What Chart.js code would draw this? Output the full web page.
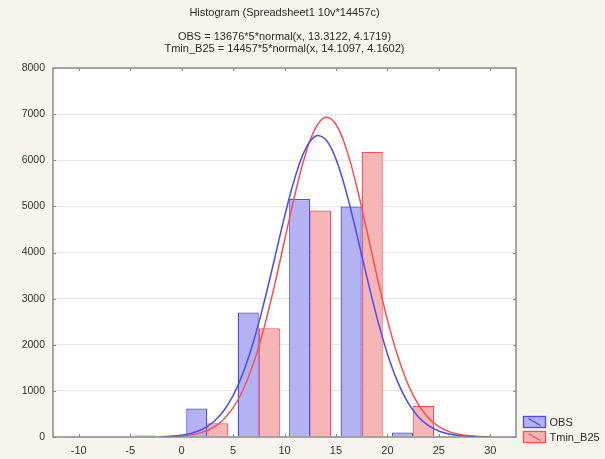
<!DOCTYPE html>
<html>
<head>
<meta charset="utf-8">
<script src="https://cdn.jsdelivr.net/npm/chart.js@4"></script>
<style>
  html, body { margin: 0; padding: 0; background: #f7f4ec; }
  #c { display: block; }
</style>
</head>
<body>
<canvas id="c" width="605" height="459"></canvas>
<script>
// ---- data ----
const binCenters = [-7.5, -2.5, 2.5, 7.5, 12.5, 17.5, 22.5, 27.5];
const obsCounts  = [0, 30, 620, 2700, 5160, 5000, 100, 0];
const tminCounts = [0, 5, 300, 2360, 4910, 6180, 680, 10];

const curveX  = [-2,-1,0,1,2,3,4,5,6,7,8,9,10,11,12,13,14,15,16,17,18,19,20,21,22,23,24,25,26,27,28,29,30];
const obsFit  = [8,18,40,84,165,308,541,897,1406,2081,2906,3833,4773,5610,6224,6521,6450,6024,5311,4420,3472,2577,1806,1195,745,440,245,129,64,30,13,5,2];
const tminFit = [4,9,22,48,100,196,362,630,1036,1608,2356,3261,4254,5242,6096,6690,6930,6775,6252,5447,4478,3475,2545,1760,1147,706,411,225,117,57,26,11,5];

const xTicks = [-10, -5, 0, 5, 10, 15, 20, 25, 30];
const yTicks = [0, 1000, 2000, 3000, 4000, 5000, 6000, 7000, 8000];

const seriesNames = ['OBS', 'Tmin_B25'];
const titleLines = [
  'Histogram (Spreadsheet1 10v*14457c)',
  'OBS = 13676*5*normal(x, 13.3122, 4.1719)',
  'Tmin_B25 = 14457*5*normal(x, 14.1097, 4.1602)'
];

// ---- styles ----
const blueFill = '#b3b3f3', blueLine = '#4a4aff';
const redFill  = '#f6b6b6', redLine  = '#ff4e4e';
const FONT = '"Liberation Sans", Arial, sans-serif';

const bgPlugin = {
  id: 'bg',
  beforeDraw(chart) {
    const { ctx, chartArea: a } = chart;
    ctx.save();
    ctx.fillStyle = '#f7f4ec';
    ctx.fillRect(0, 0, chart.width, chart.height);
    ctx.fillStyle = '#ffffff';
    ctx.fillRect(a.left, a.top, a.right - a.left, a.bottom - a.top);
    ctx.restore();
  }
};

const framePlugin = {
  id: 'frame',
  afterDraw(chart) {
    const { ctx, chartArea: a, scales } = chart;
    ctx.save();
    ctx.strokeStyle = '#8a8a8a';
    ctx.lineWidth = 1.5;
    ctx.strokeRect(a.left, a.top, a.right - a.left, a.bottom - a.top);
    ctx.lineWidth = 1;
    ctx.beginPath();
    xTicks.forEach(v => {
      const px = Math.round(scales.x.getPixelForValue(v)) + 0.5;
      ctx.moveTo(px, a.bottom); ctx.lineTo(px, a.bottom - 3);
      ctx.moveTo(px, a.top); ctx.lineTo(px, a.top + 3);
    });
    yTicks.forEach(v => {
      const py = Math.round(scales.y.getPixelForValue(v)) + 0.5;
      ctx.moveTo(a.left, py); ctx.lineTo(a.left + 3, py);
      ctx.moveTo(a.right, py); ctx.lineTo(a.right - 3, py);
    });
    ctx.stroke();

    // titles centred over plot area
    const cx = (a.left + a.right) / 2;
    ctx.fillStyle = '#2a2a2a';
    ctx.font = '11px ' + FONT;
    ctx.textAlign = 'center';
    ctx.textBaseline = 'middle';
    ctx.fillText(titleLines[0], cx, 13);
    ctx.fillText(titleLines[1], cx, 37);
    ctx.fillText(titleLines[2], cx, 49);

    // legend at lower right
    const items = [
      { label: seriesNames[0], fill: blueFill, line: blueLine },
      { label: seriesNames[1], fill: redFill, line: redLine }
    ];
    items.forEach((it, i) => {
      const x0 = 523.5, y0 = 416.5 + i * 15, w = 22, h = 11;
      ctx.fillStyle = it.fill;
      ctx.fillRect(x0, y0, w, h);
      ctx.strokeStyle = it.line;
      ctx.lineWidth = 1.3;
      ctx.strokeRect(x0, y0, w, h);
      ctx.beginPath();
      ctx.moveTo(x0 + 5, y0 + 2); ctx.lineTo(x0 + w - 5, y0 + h - 2);
      ctx.stroke();
      ctx.fillStyle = '#2a2a2a';
      ctx.textAlign = 'left';
      ctx.font = '11px ' + FONT;
      ctx.fillText(it.label, x0 + w + 4, y0 + h / 2 + 0.5);
    });
    ctx.restore();
  }
};

new Chart(document.getElementById('c'), {
  type: 'bar',
  data: {
    datasets: [
      {
        type: 'line', label: seriesNames[0],
        data: curveX.map((x, i) => ({ x, y: obsFit[i] })),
        borderColor: blueLine, borderWidth: 1.5, pointRadius: 0,
        tension: 0.4, fill: false, order: 0
      },
      {
        type: 'line', label: seriesNames[1],
        data: curveX.map((x, i) => ({ x, y: tminFit[i] })),
        borderColor: redLine, borderWidth: 1.5, pointRadius: 0,
        tension: 0.4, fill: false, order: 0
      },
      {
        label: seriesNames[0],
        data: binCenters.map((x, i) => ({ x, y: obsCounts[i] })),
        backgroundColor: blueFill, borderColor: blueLine, borderWidth: 1.3,
        categoryPercentage: 0.82, barPercentage: 1.0, order: 1
      },
      {
        label: seriesNames[1],
        data: binCenters.map((x, i) => ({ x, y: tminCounts[i] })),
        backgroundColor: redFill, borderColor: redLine, borderWidth: 1.3,
        categoryPercentage: 0.82, barPercentage: 1.0, order: 1
      }
    ]
  },
  options: {
    responsive: false,
    animation: false,
    devicePixelRatio: 1,
    layout: { padding: { top: 68, right: 89, left: 0, bottom: 0 } },
    plugins: { legend: { display: false }, title: { display: false }, tooltip: { enabled: false } },
    scales: {
      x: {
        type: 'linear', min: -12.5, max: 32.5, offset: false,
        afterBuildTicks: s => { s.ticks = xTicks.map(v => ({ value: v })); },
        afterFit: s => { s.height = 22; },
        grid: { display: false, drawTicks: false },
        border: { display: false },
        ticks: { color: '#333', font: { family: FONT, size: 11 }, padding: 7, maxRotation: 0, autoSkip: false,
                 callback: v => String(v) }
      },
      y: {
        min: 0, max: 8000,
        afterBuildTicks: s => { s.ticks = yTicks.map(v => ({ value: v })); },
        afterFit: s => { s.width = 53; },
        grid: { color: '#e6e6e6', drawTicks: false, lineWidth: 1 },
        border: { display: false },
        ticks: { color: '#333', font: { family: FONT, size: 10.5 }, padding: 8,
                 callback: v => String(v) }
      }
    }
  },
  plugins: [bgPlugin, framePlugin]
});
</script>
</body>
</html>
